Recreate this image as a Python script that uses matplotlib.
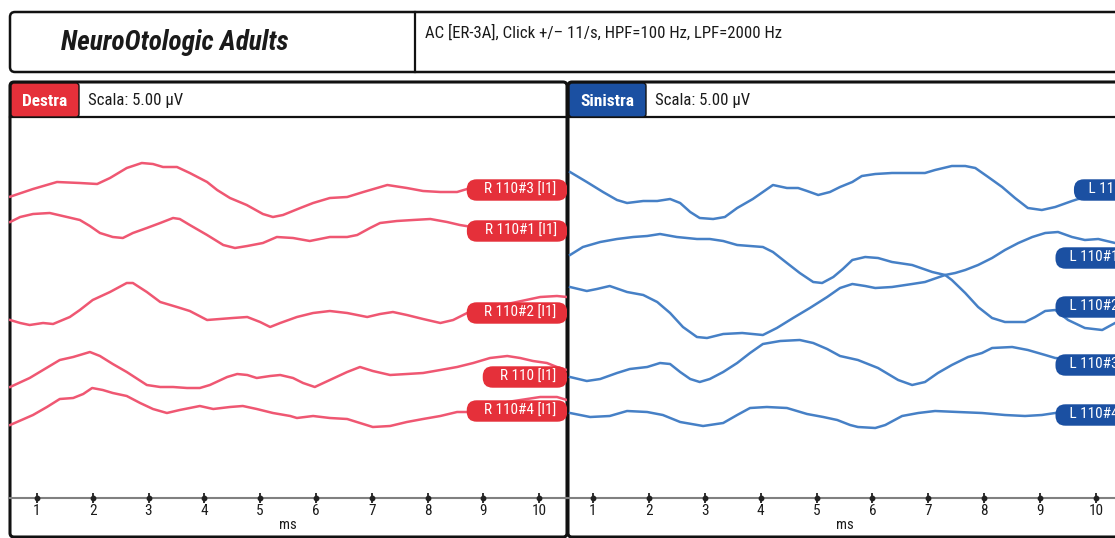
import numpy as np
import matplotlib
matplotlib.use('Agg')
import matplotlib.pyplot as plt
from matplotlib.patches import FancyBboxPatch
from matplotlib import font_manager

# ---------------- data (time in ms, amplitude in µV relative to trace baseline) ----------------
ms_ticks = [1, 2, 3, 4, 5, 6, 7, 8, 9, 10]

left_names = ["R 110#3 [I1]", "R 110#1 [I1]", "R 110#2 [I1]", "R 110 [I1]", "R 110#4 [I1]"]
left_offsets = [30.8, 26.7, 18.5, 12.1, 8.7]

t_R110_3 = [0.52, 0.93, 1.36, 1.77, 2.08, 2.31, 2.61, 2.88, 3.08, 3.26, 3.51, 3.74, 4.05, 4.23, 4.46, 4.76, 5.05,
            5.23, 5.41, 5.72, 5.95, 6.25, 6.56, 6.85, 7.28, 7.63, 7.92, 8.23, 8.53, 8.71, 8.82, 9.5, 10.5]
uv_R110_3 = [-0.67, 0.1, 0.8, 0.7, 0.6, 1.2, 2.2, 2.7, 2.6, 2.3, 2.3, 1.7, 0.8, 0.0, -0.8, -1.5, -2.4,
             -2.7, -2.5, -1.8, -1.3, -0.8, -0.7, -0.2, 0.5, 0.2, -0.1, -0.2, -0.2, 0.1, 0.3, 0.4, 0.3]

t_R110_1 = [0.52, 0.70, 0.93, 1.23, 1.54, 1.77, 1.95, 2.13, 2.36, 2.54, 2.72, 2.97, 3.21, 3.44, 3.56, 3.74, 4.05,
            4.34, 4.55, 4.77, 5.05, 5.30, 5.59, 5.89, 6.25, 6.56, 6.74, 6.97, 7.15, 7.45, 7.74, 8.05, 8.35, 8.58,
            8.80, 10.5]
uv_R110_1 = [0.9, 1.4, 1.7, 1.8, 1.4, 1.1, 0.5, -0.2, -0.6, -0.7, -0.2, 0.3, 0.8, 1.3, 1.2, 0.6, -0.4,
             -1.4, -1.7, -1.5, -1.2, -0.6, -0.7, -1.0, -0.6, -0.6, -0.4, 0.3, 0.8, 1.0, 1.1, 1.2, 0.9, 0.6,
             0.4, 0.2]

t_R110_2 = [0.52, 0.70, 0.87, 1.11, 1.29, 1.59, 1.77, 2.00, 2.31, 2.61, 2.72, 2.97, 3.21, 3.51, 3.74, 4.05, 4.28,
            4.51, 4.77, 5.00, 5.18, 5.36, 5.66, 5.95, 6.25, 6.56, 6.92, 7.15, 7.38, 7.63, 7.92, 8.23, 8.46, 8.71,
            8.80, 9.43, 10.02, 10.32, 10.5]
uv_R110_2 = [-0.7, -1.0, -1.2, -1.0, -1.1, -0.4, 0.3, 1.3, 2.1, 3.0, 3.0, 2.1, 1.1, 0.6, 0.2, -0.7, -0.6,
             -0.5, -0.4, -0.9, -1.4, -1.0, -0.4, 0.0, 0.2, 0.0, -0.4, -0.1, 0.1, -0.2, -0.6, -1.0, -0.7, 0.0,
             0.1, 0.9, 1.6, 1.7, 1.6]

t_R110 = [0.52, 0.87, 1.11, 1.41, 1.65, 1.95, 2.13, 2.36, 2.61, 2.97, 3.21, 3.44, 3.69, 3.92, 4.10, 4.41, 4.59,
          4.77, 4.94, 5.18, 5.36, 5.59, 5.77, 5.98, 6.25, 6.56, 6.79, 7.02, 7.33, 7.63, 7.92, 8.23, 8.53, 8.82,
          9.12, 9.43, 9.66, 9.89, 10.14, 10.32, 10.5]
uv_R110 = [-1.0, -0.1, 0.7, 1.7, 2.0, 2.5, 2.1, 1.3, 0.5, -0.8, -1.0, -1.0, -1.1, -1.1, -0.8, 0.0, 0.3,
           0.2, -0.1, 0.1, 0.2, -0.1, -0.6, -1.0, -0.3, 0.5, 1.0, 0.6, 0.2, 0.3, 0.4, 0.7, 1.0, 1.4,
           1.9, 2.1, 1.9, 1.6, 1.4, 1.0, 0.7]

t_R110_4 = [0.52, 0.93, 1.18, 1.41, 1.65, 1.83, 1.99, 2.18, 2.36, 2.61, 2.85, 3.08, 3.33, 3.56, 3.92, 4.16, 4.46,
            4.69, 4.94, 5.23, 5.54, 5.66, 5.95, 6.25, 6.56, 6.79, 7.02, 7.33, 7.63, 7.92, 8.23, 8.53, 8.80, 9.43,
            10.02, 10.32, 10.5]
uv_R110_4 = [-1.4, -0.4, 0.4, 1.2, 1.3, 1.7, 2.3, 2.1, 1.8, 1.5, 0.8, 0.2, -0.2, 0.1, 0.5, 0.2, 0.4,
             0.5, 0.2, -0.2, -0.5, -0.7, -0.5, -0.7, -0.8, -1.2, -1.6, -1.5, -1.1, -0.8, -0.5, -0.1, -0.1, 0.9,
             1.4, 1.4, 1.1]

right_names = ["L 110 [I1]", "L 110#1 [I1]", "L 110#2 [I1]", "L 110#3 [I1]", "L 110#4 [I1]"]
right_offsets = [30.8, 24.0, 19.1, 13.3, 8.3]
right_label_ms = [9.61, 9.28, 9.28, 9.28, 9.28]

t_L110 = [0.59, 0.89, 1.18, 1.43, 1.61, 1.90, 2.15, 2.38, 2.56, 2.74, 2.91, 3.15, 3.36, 3.58, 3.86, 4.04, 4.22,
          4.47, 4.67, 4.83, 5.03, 5.24, 5.42, 5.64, 5.81, 6.05, 6.35, 6.71, 6.94, 7.12, 7.42, 7.66, 7.84, 8.07,
          8.32, 8.55, 8.78, 9.03, 9.27, 9.57, 9.68, 10.5]
uv_L110 = [1.8, 0.8, -0.2, -1.0, -1.3, -1.1, -1.1, -0.9, -1.3, -2.2, -2.8, -2.9, -2.7, -1.8, -0.9, -0.2, 0.5,
           0.2, 0.2, -0.1, -0.5, -0.2, 0.3, 0.8, 1.4, 1.6, 1.7, 1.7, 1.7, 2.0, 2.4, 2.4, 2.2, 1.3,
           0.3, -0.8, -1.8, -2.0, -1.7, -1.1, -0.9, -0.6]

t_L110_1 = [0.59, 0.82, 1.13, 1.43, 1.72, 1.97, 2.20, 2.50, 2.86, 3.09, 3.33, 3.58, 3.81, 4.04, 4.22, 4.47, 4.70,
            4.94, 5.10, 5.30, 5.47, 5.64, 5.87, 6.10, 6.35, 6.71, 7.07, 7.30, 7.42, 7.66, 7.89, 8.14, 8.37, 8.73,
            8.91, 9.09, 9.27, 9.50, 9.80, 10.11, 10.34, 10.5]
uv_L110_1 = [0.3, 1.1, 1.6, 1.9, 2.1, 2.2, 2.4, 2.1, 1.9, 1.9, 1.7, 1.3, 1.2, 1.1, 0.6, -0.5, -1.5,
             -2.4, -2.5, -1.9, -1.1, -0.2, 0.1, 0.0, -0.4, -0.7, -1.4, -1.7, -2.2, -3.5, -4.9, -6.0, -6.4, -6.4,
             -5.9, -5.3, -5.2, -6.2, -7.0, -7.2, -6.5, -6.0]

t_L110_2 = [0.59, 0.89, 1.07, 1.30, 1.61, 1.90, 2.15, 2.38, 2.61, 2.86, 3.04, 3.33, 3.67, 4.04, 4.29, 4.58, 4.88,
            5.19, 5.42, 5.64, 5.87, 6.05, 6.35, 6.71, 6.94, 7.30, 7.48, 7.66, 7.89, 8.14, 8.37, 8.61, 8.86, 9.09,
            9.32, 9.57, 9.80, 10.04, 10.34, 10.5]
uv_L110_2 = [2.0, 1.6, 1.8, 2.1, 1.5, 1.2, 0.5, -0.6, -2.0, -3.0, -3.1, -2.7, -2.6, -2.8, -2.1, -1.1, -0.1,
             1.0, 1.9, 2.3, 2.1, 1.9, 2.0, 2.3, 2.5, 3.2, 3.4, 3.7, 4.2, 4.9, 5.7, 6.4, 7.0, 7.4,
             7.5, 7.0, 6.7, 6.8, 6.4, 6.2]

t_L110_3 = [0.59, 0.89, 1.13, 1.43, 1.66, 1.97, 2.20, 2.38, 2.56, 2.74, 2.91, 3.09, 3.33, 3.58, 3.81, 4.04, 4.35,
            4.70, 4.94, 5.19, 5.42, 5.74, 6.10, 6.46, 6.71, 6.94, 7.17, 7.42, 7.71, 7.96, 8.14, 8.50, 8.78, 9.09,
            9.27, 10.5]
uv_L110_3 = [-1.2, -1.6, -1.4, -0.8, -0.4, -0.2, 0.2, 0.1, -0.7, -1.4, -1.7, -1.4, -0.7, 0.2, 1.2, 2.1, 2.4,
             2.5, 2.2, 1.6, 0.9, 0.5, -0.3, -1.5, -2.0, -1.7, -0.8, 0.0, 0.8, 1.2, 1.7, 1.8, 1.5, 1.0,
             0.7, 0.2]

t_L110_4 = [0.59, 0.95, 1.30, 1.61, 1.97, 2.25, 2.56, 2.97, 3.33, 3.58, 3.81, 4.11, 4.47, 4.83, 5.12, 5.37, 5.60,
            5.74, 6.05, 6.23, 6.53, 6.82, 7.12, 7.53, 7.96, 8.37, 8.73, 9.03, 9.27, 10.5]
uv_L110_4 = [0.2, -0.2, -0.1, 0.4, 0.3, 0.0, -0.7, -1.1, -0.8, 0.0, 0.7, 0.8, 0.7, 0.1, -0.2, -0.5, -1.0,
             -1.2, -1.3, -1.0, -0.1, 0.2, 0.4, 0.3, 0.2, 0.0, -0.1, 0.0, 0.2, 0.3]

left_traces = [(t_R110_3, uv_R110_3), (t_R110_1, uv_R110_1), (t_R110_2, uv_R110_2),
               (t_R110, uv_R110), (t_R110_4, uv_R110_4)]
right_traces = [(t_L110, uv_L110), (t_L110_1, uv_L110_1), (t_L110_2, uv_L110_2),
                (t_L110_3, uv_L110_3), (t_L110_4, uv_L110_4)]

title_text = "NeuroOtologic Adults"
subtitle_text = "AC [ER-3A], Click +/\u2013 11/s, HPF=100 Hz, LPF=2000 Hz"
scale_text = "Scala: 5.00 \u00b5V"

# ---------------- style ----------------
names = {f.name for f in font_manager.fontManager.ttflist}
COND = next((n for n in ['Liberation Sans Narrow', 'Roboto Condensed', 'Open Sans Condensed', 'Lato']
             if n in names), 'DejaVu Sans')
plt.rcParams['font.family'] = [COND, 'DejaVu Sans']

RED_TRACE = '#ef5772'
BLUE_TRACE = '#4680c6'
RED_FILL = '#e5303a'
BLUE_FILL = '#1b50a2'

W, H = 1115, 538
fig = plt.figure(figsize=(W / 100, H / 100), dpi=100)
fig.patch.set_facecolor('white')

ov = fig.add_axes([0, 0, 1, 1])
ov.set_xlim(0, W)
ov.set_ylim(H, 0)
ov.axis('off')


def px_axes(x0, y0, x1, y1):
    return fig.add_axes([x0 / W, (H - y1) / H, (x1 - x0) / W, (y1 - y0) / H])


# header box
ov.add_patch(FancyBboxPatch((10, 12), 1200, 60, boxstyle='round,pad=0,rounding_size=5',
                            fc='white', ec='#111111', lw=1.8))
ov.plot([415, 415], [12, 72], color='#111111', lw=1.6)
ov.text(175, 43, title_text, ha='center', va='center', fontsize=19.6, weight='bold', style='italic',
        color='#1a1a1a')
ov.text(425, 33, subtitle_text, ha='left', va='center', fontsize=12.1, color='#1a1a1a')

# panel frames
for x0, w, tab_w, tab_txt, fill in [(10, 557, 68, 'Destra', RED_FILL), (568, 650, 77, 'Sinistra', BLUE_FILL)]:
    ov.add_patch(FancyBboxPatch((x0, 82), w, 455, boxstyle='round,pad=0,rounding_size=4',
                                fc='white', ec='#111111', lw=2.2, zorder=1))
    ov.plot([x0, x0 + w], [117, 117], color='#111111', lw=1.6, zorder=2)
    ov.add_patch(FancyBboxPatch((x0 + 1, 83), tab_w, 34, boxstyle='round,pad=0,rounding_size=3',
                                fc=fill, ec='#111111', lw=1.0, zorder=2))
    ov.text(x0 + 1 + tab_w / 2, 101, tab_txt, ha='center', va='center', color='white',
            fontsize=12.5, weight='bold', zorder=3)
    ov.text(x0 + tab_w + 10, 100, scale_text, ha='left', va='center', fontsize=12.1, color='#1a1a1a', zorder=3)

axL = px_axes(9, 117, 567, 537)
axR = px_axes(565, 117, 1124, 537)

for ax, traces, offsets, color in [(axL, left_traces, left_offsets, RED_TRACE),
                                   (axR, right_traces, right_offsets, BLUE_TRACE)]:
    ax.set_facecolor('none')
    ax.set_xlim(0.5, 10.5)
    ax.set_ylim(-3.9, 38.1)
    for s in ['left', 'right', 'top']:
        ax.spines[s].set_visible(False)
    ax.spines['bottom'].set_position(('data', 0))
    ax.spines['bottom'].set_color('#808080')
    ax.spines['bottom'].set_linewidth(1.5)
    ax.set_yticks([])
    ax.set_xticks(ms_ticks)
    ax.set_xticklabels([str(v) for v in ms_ticks])
    ax.tick_params(axis='x', direction='inout', length=7, width=1.3, color='#222222',
                   labelsize=11, pad=1, labelcolor='#1a1a1a')
    ax.set_xlabel('ms', fontsize=10.5, labelpad=0, color='#1a1a1a')
    ax.plot(ms_ticks, [0] * len(ms_ticks), 'o', ms=3.2, color='#222222', clip_on=False, zorder=4)
    for (t, v), off in zip(traces, offsets):
        ax.plot(t, np.asarray(v) + off, color=color, lw=1.8, solid_joinstyle='round', zorder=3)

label_box = dict(boxstyle='round,pad=0.24,rounding_size=0.65', ec='none')
for name, off in zip(left_names, left_offsets):
    axL.text(10.44, off, '    ' + name + '  ', ha='right', va='center', color='white', fontsize=11,
             bbox=dict(label_box, fc=RED_FILL), clip_on=True, zorder=6)

for name, off, xm in zip(right_names, right_offsets, right_label_ms):
    axR.text(xm + 0.06, off, '   ' + name + '  ', ha='left', va='center', color='white', fontsize=11,
             bbox=dict(label_box, fc=BLUE_FILL), clip_on=True, zorder=6)

fig.savefig('out.png', dpi=100)
